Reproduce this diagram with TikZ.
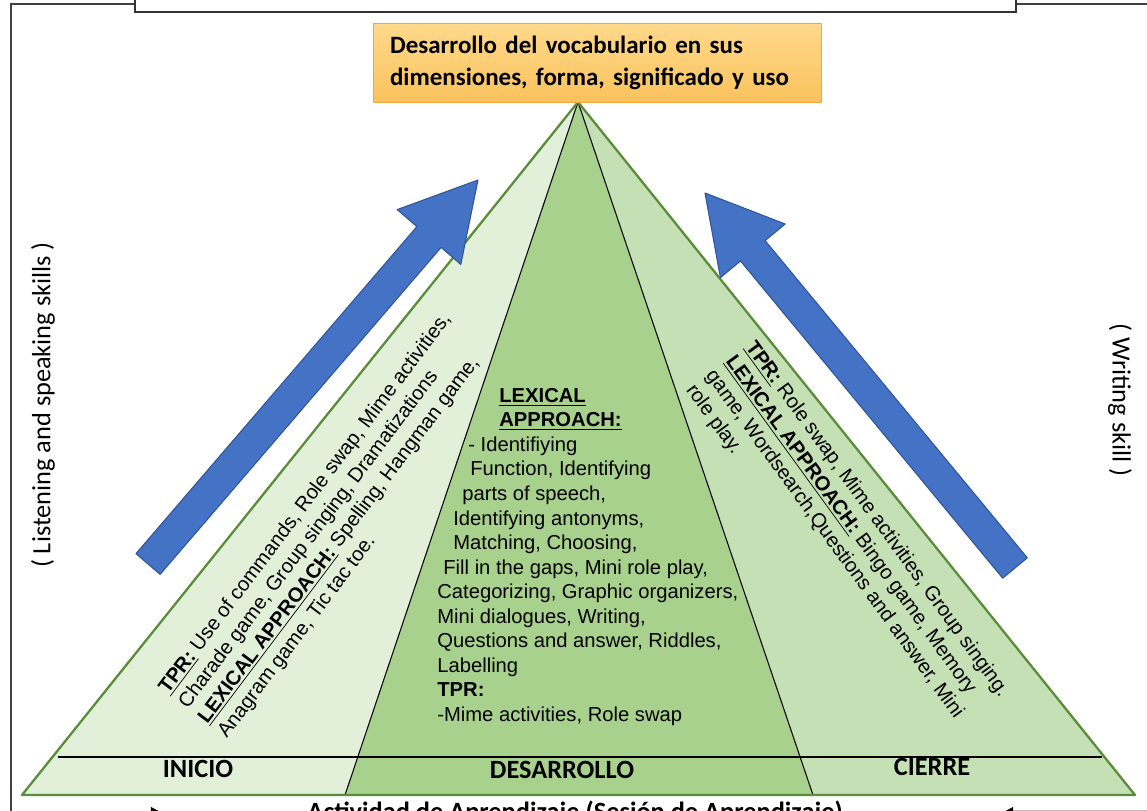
\documentclass[tikz,border=0pt]{standalone}
\usepackage{fontspec}
\setmainfont{Liberation Sans}
\newfontfamily\calibri{Carlito}
\usetikzlibrary{arrows.meta}

\definecolor{leftgreen}{HTML}{E2EFD9}
\definecolor{midgreen}{HTML}{A9D18E}
\definecolor{rightgreen}{HTML}{C5E0B4}
\definecolor{edgegreen}{HTML}{5B8C3A}
\definecolor{arrowblue}{HTML}{4472C4}
\definecolor{arrowedge}{HTML}{2F5597}
\definecolor{boxtop}{HTML}{FFD98C}
\definecolor{boxbottom}{HTML}{F9C25C}
\definecolor{boxedge}{HTML}{F2A541}

\newlength\pxunit
\setlength\pxunit{0.02cm}

\tikzset{
  goalbox/.style={draw=boxedge, line width=0.6pt, top color=boxtop, bottom color=boxbottom,
    text width=8.3cm, minimum height=1.58cm, inner xsep=0.34cm, align=left,
    font=\calibri\bfseries\fontsize{14.2}{18.2}\selectfont},
  stagelabel/.style={font=\calibri\bfseries\fontsize{15}{18}\selectfont, inner sep=0pt},
  skilllabel/.style={font=\calibri\fontsize{15}{18}\selectfont, inner sep=0pt},
  activities/.style={font=\fontsize{11.5}{13.95}\selectfont, align=left, inner sep=0pt},
  blockarrow/.style={fill=arrowblue, draw=arrowedge, line width=0.6pt, line join=round},
}

\begin{document}
\begin{tikzpicture}[x=0.02cm, y=-0.02cm]
            \useasboundingbox (0,0) rectangle (1147,811);
            \clip (0,0) rectangle (1147,811);

            % Drawing frame
            \draw [line width=0.8pt, black!75] (11.0,811.0) -- (11.0,4.0) -- (147.0,4.0);%
            \draw [line width=0.8pt, black!75] (1016.0,4.0) -- (1147.0,4.0);%

            % Drawing top box
            \draw [line width=0.8pt, black!80, fill=white] (135.0,-20.0) rectangle (1016.0,12.0);%

            % Drawing pyramid parts
            \fill [leftgreen] (578.0,102.0) -- (22.0,795.0) -- (345.0,795.0) -- cycle;%
            \fill [midgreen] (578.0,102.0) -- (345.0,795.0) -- (813.0,795.0) -- cycle;%
            \fill [rightgreen] (578.0,102.0) -- (813.0,795.0) -- (1135.0,795.0) -- cycle;%
            \draw [line width=0.6pt] (578.0,102.0) -- (345.0,795.0);%
            \draw [line width=0.6pt] (578.0,102.0) -- (813.0,795.0);%
            \draw [edgegreen, line width=1.3pt, line join=round] (578.0,102.0) -- (22.0,795.0) -- (1135.0,795.0) -- cycle;%

            % Drawing base line
            \draw [line width=1.2pt] (58.0,757.0) -- (1102.0,757.0);%

            % Drawing blue arrow left
            \draw [blockarrow] (136.0,553.6) -- (416.9,226.6) -- (397.2,209.6) -- (478.0,180.0)
              -- (460.8,264.4) -- (441.1,247.4) -- (160.1,574.4) -- cycle;%

            % Drawing blue arrow right
            \draw [blockarrow] (1027.3,557.8) -- (765.1,240.6) -- (785.2,224.0) -- (705.0,193.0)
              -- (720.4,277.6) -- (740.5,261.0) -- (1002.7,578.2) -- cycle;%

            % Marking goal
            \node [goalbox] (goal) at (597.5,63.0) {Desarrollo del vocabulario en sus\\dimensiones, forma, significado y uso};%

            % Marking skills
            \node [skilllabel, rotate=90] (listenskill) at (43.0,405.0) {( Listening and speaking skills )};%
            \node [skilllabel, rotate=-90] (writeskill) at (1120.0,400.0) {( Writing skill )};%

            % Marking activities inicio
            \node [activities, rotate=53, anchor=north west] (inicioacts) at (156.0,686.0)
              {\underline{\textbf{TPR:}} Use of commands, Role swap, Mime activities,\\
               Charade game, Group singing, Dramatizations\\
               \underline{\textbf{LEXICAL APPROACH:}} Spelling, Hangman game,\\
               Anagram game, Tic tac toe.};%

            % Marking activities desarrollo
            \node [activities, anchor=north west] (desarrolloacts) at (437.0,388.0)
              {\hspace*{62\pxunit}\underline{\textbf{LEXICAL}}\\
               \hspace*{62\pxunit}\underline{\textbf{APPROACH:}}\\
               \hspace*{31\pxunit}- Identifiying\\
               \hspace*{33\pxunit}Function, Identifying\\
               \hspace*{25\pxunit}parts of speech,\\
               \hspace*{16\pxunit}Identifying antonyms,\\
               \hspace*{16\pxunit}Matching, Choosing,\\
               \hspace*{6\pxunit}Fill in the gaps, Mini role play,\\
               Categorizing, Graphic organizers,\\
               Mini dialogues, Writing,\\
               Questions and answer, Riddles,\\
               Labelling\\
               \textbf{TPR:}\\
               -Mime activities, Role swap};%

            % Marking activities cierre
            \node [activities, rotate=-54, anchor=north west] (cierreacts) at (757.0,338.0)
              {\underline{\textbf{TPR:}} Role swap, Mime activities, Group singing.\\
               \underline{\textbf{LEXICAL APPROACH:}} Bingo game, Memory\\
               game, Wordsearch,Questions and answer, Mini\\
               role play.};%

            % Marking stages
            \node [stagelabel] (inicio) at (198.0,769.0) {INICIO};%
            \node [stagelabel] (desarrollo) at (562.0,770.0) {DESARROLLO};%
            \node [stagelabel] (cierre) at (932.0,767.0) {CIERRE};%

            % Marking session
            \node [stagelabel, anchor=base] (session) at (575.0,820.0) {Actividad de Aprendizaje (Sesión de Aprendizaje)};%
            \coordinate (sessionL) at (20.0,814.0);
            \coordinate (sessionLtip) at (164.0,814.0);
            \coordinate (sessionR) at (1147.0,814.0);
            \coordinate (sessionRtip) at (1000.0,814.0);
            \draw [-{Triangle[length=7.5pt,width=8pt]}] (sessionL) -- (sessionLtip);%
            \draw [-{Triangle[length=7.5pt,width=8pt]}] (sessionR) -- (sessionRtip);%
            \draw [gray!50, line width=0.8pt] (1013.0,810.3) -- (1147.0,810.3);%
\end{tikzpicture}
\end{document}
